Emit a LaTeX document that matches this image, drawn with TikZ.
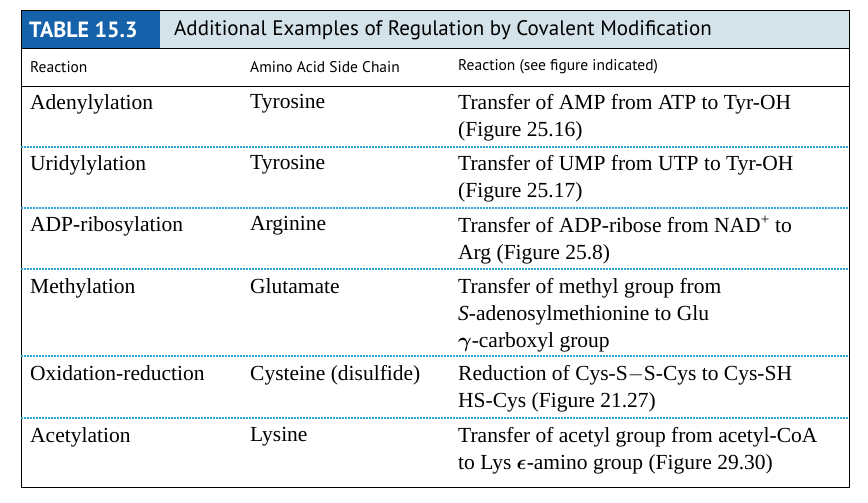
\documentclass[tikz,border=0pt]{standalone}
\usepackage{amsmath}
\usepackage{fontspec}
\setmainfont{Liberation Serif}
\newfontfamily\hdr{PT Sans}
\definecolor{tblue}{HTML}{1662AA}
\definecolor{tlight}{HTML}{D3E3E9}
\definecolor{tdot}{HTML}{2BA6D9}
\begin{document}
\begin{tikzpicture}[x=1pt,y=-1pt,
  cell/.style={anchor=north west,inner sep=0pt,align=left,font=\fontsize{21.5}{27}\selectfont},
  hcell/.style={anchor=west,inner sep=0pt,font=\hdr\fontsize{15.5}{18}\selectfont},
  sep/.style={tdot,line width=1.6pt,dash pattern=on 1.6pt off 1.4pt}]
\useasboundingbox (0,0) rectangle (868,503);
\fill[tlight] (21,10) rectangle (849,48);
\fill[tblue] (21,10) rectangle (160,48);
\node[anchor=west,inner sep=0pt,text=white,font=\hdr\bfseries\fontsize{22}{24}\selectfont] (t) at (29,30) {TABLE 15.3};
\node[anchor=west,inner sep=0pt,font=\hdr\fontsize{21}{24}\selectfont] (tt) at (174,30) {Additional Examples of Regulation by Covalent Modification};
\draw[line width=0.8pt] (21,10) rectangle (849,487);
\draw[line width=0.8pt] (21,48) -- (849,48);
\draw[line width=0.8pt] (21,86) -- (849,86);
\node[hcell] (h1) at (30,67) {Reaction};
\node[hcell] (h2) at (250,67) {Amino Acid Side Chain};
\node[hcell] (h3) at (458,67) {Reaction (see figure indicated)};
\foreach \y in {147,208,269,356,418} \draw[sep] (21,\y) -- (849,\y);
\node[cell] (a1) at (30,94) {Adenylylation};
\node[cell] (a2) at (250,94) {Tyrosine};
\node[cell] (a3) at (458,94) {Transfer of AMP from ATP to Tyr-OH\\(Figure 25.16)};
\node[cell] (b1) at (30,155) {Uridylylation};
\node[cell] (b2) at (250,155) {Tyrosine};
\node[cell] (b3) at (458,155) {Transfer of UMP from UTP to Tyr-OH\\(Figure 25.17)};
\node[cell] (c1) at (30,216) {ADP-ribosylation};
\node[cell] (c2) at (250,216) {Arginine};
\node[cell] (c3) at (458,216) {Transfer of ADP-ribose from NAD\textsuperscript{+} to\\Arg (Figure 25.8)};
\node[cell] (d1) at (30,278) {Methylation};
\node[cell] (d2) at (250,278) {Glutamate};
\node[cell] (d3) at (458,278) {Transfer of methyl group from\\\textit{S}-adenosylmethionine to Glu\\$\boldsymbol{\gamma}$-carboxyl group};
\node[cell] (e1) at (30,365) {Oxidation-reduction};
\node[cell] (e2) at (250,365) {Cysteine (disulfide)};
\node[cell] (e3) at (458,365) {Reduction of Cys-S$-$S-Cys to Cys-SH\\HS-Cys (Figure 21.27)};
\node[cell] (f1) at (30,427) {Acetylation};
\node[cell] (f2) at (250,427) {Lysine};
\node[cell] (f3) at (458,427) {Transfer of acetyl group from acetyl-CoA\\to Lys $\boldsymbol{\epsilon}$-amino group (Figure 29.30)};
\end{tikzpicture}
\end{document}
